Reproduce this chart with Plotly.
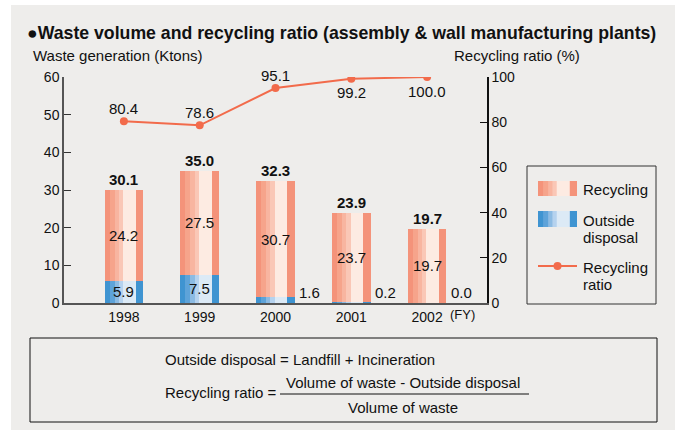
import plotly.graph_objects as go

# ---------------- data ----------------
years = ["1998", "1999", "2000", "2001", "2002"]
recycling = [24.2, 27.5, 30.7, 23.7, 19.7]
outside_disposal = [5.9, 7.5, 1.6, 0.2, 0.0]
totals = [30.1, 35.0, 32.3, 23.9, 19.7]
recycling_ratio = [80.4, 78.6, 95.1, 99.2, 100.0]
ratio_label_side = ["above", "above", "above", "below", "below"]
left_ticks = [0, 10, 20, 30, 40, 50, 60]
right_ticks = [0, 20, 40, 60, 80, 100]

# ---------------- styling ----------------
W, H = 678, 430
ML, MR, MT, MB = 64, 191, 77, 127
PW, PH = W - ML - MR, H - MT - MB
FONT = "Liberation Sans, Arial, Helvetica, sans-serif"
BG = "#EEEDEB"
RED_STRIPES = [(0.0, 1.0, "#F4937A"), (0.13, 0.81, "#F6A48B"), (0.26, 0.81, "#F8B5A0"),
               (0.37, 0.81, "#FAC7B6"), (0.48, 0.81, "#FDEBE2")]
BLUE_STRIPES = [(0.0, 1.0, "#3F94D1"), (0.13, 0.81, "#5EA3D9"), (0.26, 0.81, "#8CBBE3"),
                (0.37, 0.81, "#B5D2EE"), (0.48, 0.81, "#DCEAF6")]
LINE_COLOR = "#F26B4B"
BAR_W = 0.51


def px(x):
    return (x - ML) / PW


def py(y):
    return (MT + PH - y) / PH


def note(x, y, text, size=15, xanchor="center", **kw):
    return dict(x=px(x), y=py(y), xref="paper", yref="paper", text=text,
                showarrow=False, xanchor=xanchor, yanchor="middle",
                font=dict(size=size), **kw)


xs = list(range(len(years)))
fig = go.Figure()

# striped bars (layered so no gaps appear between stripes)
for stripes, vals, base in ((BLUE_STRIPES, outside_disposal, [0] * len(xs)),
                            (RED_STRIPES, recycling, outside_disposal)):
    for s, e, c in stripes:
        fig.add_trace(go.Bar(
            x=xs, y=vals, base=base,
            width=[(e - s) * BAR_W] * len(xs),
            offset=[-BAR_W / 2 + s * BAR_W] * len(xs),
            marker=dict(color=c, line=dict(width=0)),
            showlegend=False, hoverinfo="skip"))

# recycling ratio line
fig.add_trace(go.Scatter(
    x=xs, y=recycling_ratio, yaxis="y2", mode="lines+markers",
    line=dict(color=LINE_COLOR, width=2), marker=dict(color=LINE_COLOR, size=8),
    showlegend=False, hoverinfo="skip"))

ann = []
for i in xs:
    ann.append(dict(x=i, y=totals[i], xref="x", yref="y", text=f"<b>{totals[i]:.1f}</b>",
                    showarrow=False, xanchor="center", yanchor="bottom", font=dict(size=15)))
    ann.append(dict(x=i, y=outside_disposal[i] + recycling[i] / 2, xref="x", yref="y",
                    text=f"{recycling[i]:.1f}", showarrow=False, xanchor="center",
                    yanchor="middle", font=dict(size=15)))
    if outside_disposal[i] >= 3:
        ann.append(dict(x=i, y=outside_disposal[i] / 2, xref="x", yref="y",
                        text=f"{outside_disposal[i]:.1f}", showarrow=False, xanchor="center",
                        yanchor="middle", font=dict(size=15)))
    else:
        ann.append(dict(x=i + 0.45, y=0, xref="x", yref="y", yanchor="bottom", xanchor="center",
                        text=f"{outside_disposal[i]:.1f}", showarrow=False, font=dict(size=15)))
    shift = 13 if ratio_label_side[i] == "above" else -14
    ann.append(dict(x=i, y=recycling_ratio[i], xref="x", yref="y2",
                    text=f"{recycling_ratio[i]:.1f}", showarrow=False, yshift=shift,
                    xanchor="center", yanchor="middle", font=dict(size=15)))

ann.append(note(462, 314, "(FY)", size=13))
ann.append(note(25, 33,
                "<b>●Waste volume and recycling ratio (assembly &amp; wall manufacturing plants)</b>",
                size=17.7, xanchor="left"))
ann.append(note(31, 56, "Waste generation (Ktons)", size=15, xanchor="left"))
ann.append(note(452, 56, "Recycling ratio (%)", size=15, xanchor="left"))

shapes = [dict(type="rect", xref="paper", yref="paper", x0=px(11), x1=px(675),
               y0=py(5), y1=py(431), fillcolor=BG, line=dict(width=0), layer="below")]

# legend box
shapes.append(dict(type="rect", xref="paper", yref="paper", x0=px(527), x1=px(656),
                   y0=py(166), y1=py(304), line=dict(color="#333", width=1)))
for stripes, y0, y1 in ((RED_STRIPES, 181, 196), (BLUE_STRIPES, 211, 227)):
    for s, e, c in stripes:
        shapes.append(dict(type="rect", xref="paper", yref="paper",
                           x0=px(538 + s * 39), x1=px(538 + e * 39),
                           y0=py(y0), y1=py(y1), fillcolor=c, line=dict(width=0)))
shapes.append(dict(type="line", xref="paper", yref="paper", x0=px(538), x1=px(577),
                   y0=py(266), y1=py(266), line=dict(color=LINE_COLOR, width=2)))
shapes.append(dict(type="circle", xref="paper", yref="paper", x0=px(553.5), x1=px(561.5),
                   y0=py(262), y1=py(270), fillcolor=LINE_COLOR, line=dict(width=0)))
for txt, yy in (("Recycling", 189), ("Outside", 220), ("disposal", 237),
                ("Recycling", 267), ("ratio", 284)):
    ann.append(note(581, yy, txt, size=15, xanchor="left"))

# formula box
shapes.append(dict(type="rect", xref="paper", yref="paper", x0=px(30), x1=px(657),
                   y0=py(338), y1=py(422), line=dict(color="#111", width=1)))
ann.append(note(163, 359, "Outside disposal = Landfill + Incineration", size=15, xanchor="left"))
ann.append(note(163, 392, "Recycling ratio =", size=15, xanchor="left"))
shapes.append(dict(type="line", xref="paper", yref="paper", x0=px(280), x1=px(529),
                   y0=py(394), y1=py(394), line=dict(color="#111", width=1)))
ann.append(note(403, 382, "Volume of waste - Outside disposal", size=15))
ann.append(note(403, 407, "Volume of waste", size=15))

half = (PW / 75.8) / 2
center = 2
fig.update_layout(
    width=W, height=H, template="none",
    margin=dict(l=ML, r=MR, t=MT, b=MB, pad=0),
    paper_bgcolor="white", plot_bgcolor="rgba(0,0,0,0)",
    font=dict(family=FONT, color="#111", size=14),
    barmode="overlay", bargap=0,
    xaxis=dict(range=[center - half, center + half], tickvals=xs, ticktext=years,
               showgrid=False, zeroline=False, showline=True, linecolor="#555", linewidth=1.5,
               ticks="", tickfont=dict(size=14)),
    yaxis=dict(range=[0, 60], tickvals=left_ticks, showgrid=False, zeroline=False,
               showline=True, linecolor="#555", linewidth=1.5, ticks="inside", ticklen=7,
               tickcolor="#333", tickwidth=1, tickfont=dict(size=14)),
    yaxis2=dict(range=[0, 100], tickvals=right_ticks, overlaying="y", side="right",
                showgrid=False, zeroline=False, showline=True, linecolor="#111", linewidth=1.5,
                ticks="inside", ticklen=7, tickcolor="#111", tickwidth=1,
                tickfont=dict(size=14)),
    annotations=ann, shapes=shapes, showlegend=False,
)

fig.write_html("out.html", config={"displayModeBar": False},
               post_script="document.body.style.margin='0';")
